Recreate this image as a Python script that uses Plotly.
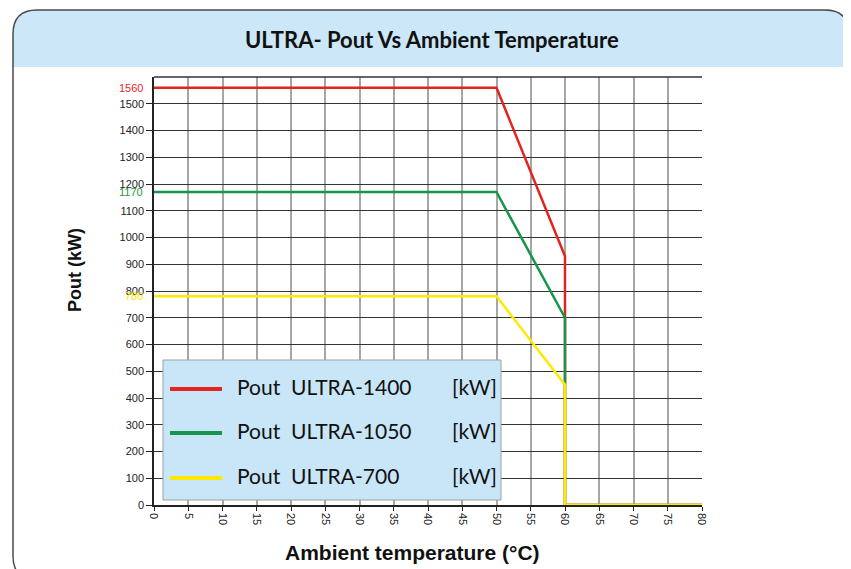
import plotly.graph_objects as go

# ---- data ----
series_names = ["Pout  ULTRA-1400", "Pout  ULTRA-1050", "Pout  ULTRA-700"]
unit_label = "[kW]"
temp_x = [0, 50, 60, 60, 80]
pout_1400 = [1560, 1560, 930, 0, 0]
pout_1050 = [1170, 1170, 700, 0, 0]
pout_700 = [780, 780, 450, 0, 0]
series_values = [pout_1400, pout_1050, pout_700]
series_colors = ["#E3231E", "#17954A", "#FFE900"]
rated_values = [1560, 1170, 780]
y_tick_vals = list(range(0, 1600, 100))
x_tick_vals = list(range(0, 85, 5))

# figure drawn inside page body (8px default margin)
W, H = 843, 561
PW, PH = 548, 428
L, T = 146, 69
R, B = W - L - PW, H - T - PH
SX0, SY0 = 154, 505  # screen coords of plot origin


def px(x):
    return (x - SX0) / PW


def py(y):
    return (SY0 - y) / PH


fig = go.Figure()
for name, vals, col in zip(series_names, series_values, series_colors):
    fig.add_trace(go.Scatter(x=temp_x, y=vals, mode="lines", name=name,
                             line=dict(color=col, width=2.5), showlegend=False))

shapes = []
x0, x1 = px(13), px(849)
yt, yb = py(10), py(580)
hb = py(67)
rx, ry = 24 / PW, 24 / PH
border = (f"M {x0},{yb+ry} L {x0},{yt-ry} Q {x0},{yt} {x0+rx},{yt} "
          f"L {x1-rx},{yt} Q {x1},{yt} {x1},{yt-ry} L {x1},{yb+ry} "
          f"Q {x1},{yb} {x1-rx},{yb} L {x0+rx},{yb} Q {x0},{yb} {x0},{yb+ry} Z")
header = (f"M {x0},{hb} L {x0},{yt-ry} Q {x0},{yt} {x0+rx},{yt} "
          f"L {x1-rx},{yt} Q {x1},{yt} {x1},{yt-ry} L {x1},{hb} Z")
shapes.append(dict(type="path", path=header, xref="paper", yref="paper",
                   fillcolor="#CBE7F8", line=dict(width=0), layer="below"))
shapes.append(dict(type="path", path=border, xref="paper", yref="paper",
                   fillcolor="rgba(0,0,0,0)", line=dict(color="#4a4a4a", width=1.5),
                   layer="below"))
shapes.append(dict(type="line", xref="paper", yref="paper", x0=0, x1=1, y0=1, y1=1,
                   line=dict(color="#333", width=1.5)))
# custom legend
shapes.append(dict(type="rect", xref="paper", yref="paper", x0=px(163), x1=px(501),
                   y0=py(500), y1=py(360), fillcolor="#C9E6F8",
                   line=dict(color="#A0A0A0", width=1), layer="above"))
leg_y = [389, 433, 478]
annotations = []
for name, col, ly in zip(series_names, series_colors, leg_y):
    shapes.append(dict(type="line", xref="paper", yref="paper", x0=px(170), x1=px(222),
                       y0=py(ly), y1=py(ly), line=dict(color=col, width=4), layer="above"))
    annotations.append(dict(text=name, xref="paper", yref="paper", x=px(235), y=py(ly - 3),
                            xanchor="left", yanchor="middle", showarrow=False,
                            font=dict(family="Lato", size=21, color="#111")))
    annotations.append(dict(text=unit_label, xref="paper", yref="paper", x=px(499), y=py(ly - 3),
                            xanchor="right", yanchor="middle", showarrow=False,
                            font=dict(family="Lato", size=21, color="#111")))

label_colors = ["#E8281E", "#1E9A3C", "#F5E800"]
for v, c in zip(rated_values, label_colors):
    annotations.append(dict(text=str(v), xref="paper", yref="y", x=px(145), y=v,
                            xanchor="right", yanchor="middle", showarrow=False,
                            font=dict(family="Arial", size=11, color=c)))

annotations.append(dict(text="<b>ULTRA- Pout Vs Ambient Temperature</b>", xref="paper",
                        yref="paper", x=px(432), y=py(40), xanchor="center", yanchor="middle",
                        showarrow=False, font=dict(family="Lato", size=22, color="#111")))
annotations.append(dict(text="<b>Pout (kW)</b>", xref="paper", yref="paper", x=px(75),
                        y=py(270), xanchor="center", yanchor="middle", textangle=-90,
                        showarrow=False, font=dict(family="Arial", size=18, color="#111")))
annotations.append(dict(text="<b>Ambient temperature (°C)</b>", xref="paper", yref="paper",
                        x=px(412), y=py(552), xanchor="center", yanchor="middle",
                        showarrow=False, font=dict(family="Arial", size=21, color="#111")))

fig.update_layout(
    width=W, height=H,
    margin=dict(l=L, r=R, t=T, b=B),
    paper_bgcolor="white", plot_bgcolor="rgba(0,0,0,0)",
    shapes=shapes, annotations=annotations,
    xaxis=dict(range=[0, 80], tickvals=x_tick_vals, tickangle=90,
               showgrid=True, gridcolor="#A6A6A6", gridwidth=1.5,
               showline=True, linecolor="#222", linewidth=1.5,
               ticks="outside", ticklen=4, tickcolor="#222", zeroline=False,
               tickfont=dict(family="Arial", size=11, color="#222")),
    yaxis=dict(range=[0, 1600], tickvals=y_tick_vals,
               showgrid=True, gridcolor="#333", gridwidth=1,
               showline=True, linecolor="#222", linewidth=1.5,
               ticks="outside", ticklen=6, tickcolor="#222", zeroline=False,
               tickfont=dict(family="Arial", size=11, color="#222")),
)

fig.write_html("out.html")
